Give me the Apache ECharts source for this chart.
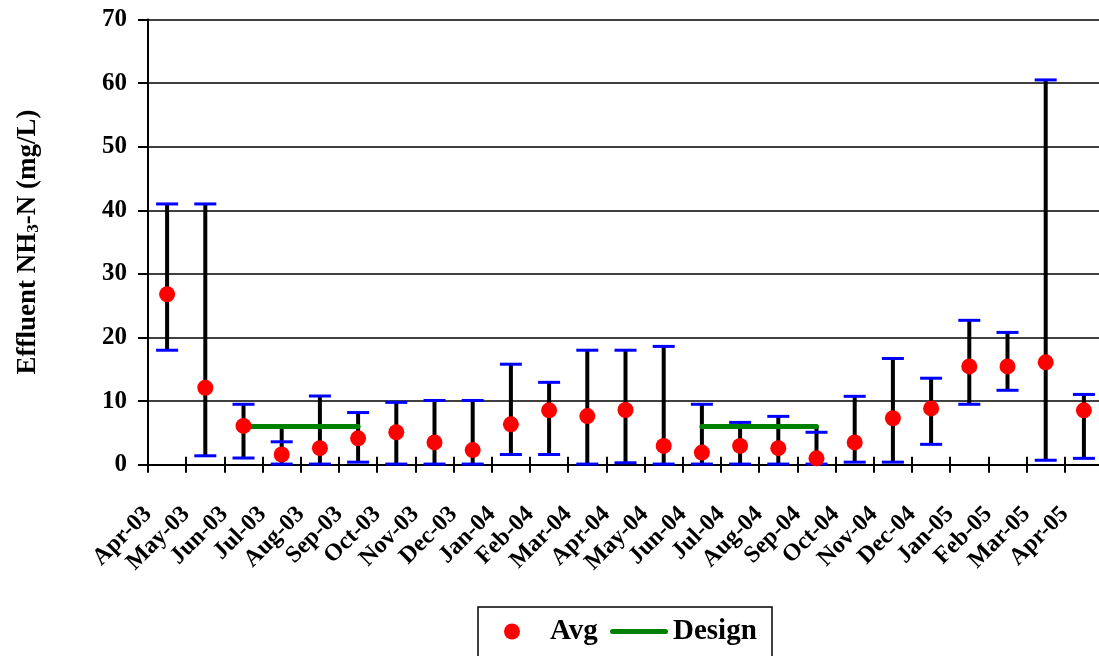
<!DOCTYPE html>
<html>
<head>
<meta charset="utf-8">
<script src="https://cdn.jsdelivr.net/npm/echarts@6/dist/echarts.min.js"></script>
<style>
html,body{margin:0;padding:0;background:#fff;}
#chart{width:1099px;height:656px;}
</style>
</head>
<body>
<div id="chart"></div>
<script>
var categories = ['Apr-03','May-03','Jun-03','Jul-03','Aug-03','Sep-03','Oct-03','Nov-03','Dec-03','Jan-04','Feb-04','Mar-04','Apr-04','May-04','Jun-04','Jul-04','Aug-04','Sep-04','Oct-04','Nov-04','Dec-04','Jan-05','Feb-05','Mar-05','Apr-05'];
var avgValues = [26.8, 12.1, 6.1, 1.6, 2.6, 4.15, 5.1, 3.5, 2.3, 6.35, 8.55, 7.65, 8.6, 2.95, 1.9, 2.95, 2.6, 1.0, 3.5, 7.3, 8.85, 15.45, 15.45, 16.1, 8.55];
var minValues = [18, 1.4, 1.05, 0.1, 0.1, 0.4, 0.1, 0.1, 0.1, 1.6, 1.6, 0.1, 0.3, 0.1, 0.1, 0.1, 0.1, 0.1, 0.4, 0.4, 3.2, 9.5, 11.7, 0.7, 1.0];
var maxValues = [41, 41, 9.5, 3.6, 10.8, 8.2, 9.8, 10.1, 10.1, 15.8, 12.95, 18, 18, 18.6, 9.5, 6.65, 7.6, 5.1, 10.75, 16.7, 13.6, 22.7, 20.8, 60.5, 11.05];
var designValues = [null, null, 6, 6, 6, 6, null, null, null, null, null, null, null, null, 6, 6, 6, 6, null, null, null, null, null, null, null];
var yTicks = [0, 10, 20, 30, 40, 50, 60, 70];

var FONT = "'Liberation Serif', 'DejaVu Serif', serif";

// high-low line extents across all series at each category
var hiLoData = categories.map(function (c, i) {
  var lo = minValues[i], hi = maxValues[i];
  if (designValues[i] != null) {
    lo = Math.min(lo, designValues[i]);
    hi = Math.max(hi, designValues[i]);
  }
  return [i, lo, hi];
});
var capData = [];
categories.forEach(function (c, i) {
  capData.push([i, minValues[i]]);
  capData.push([i, maxValues[i]]);
});

var legendText = {fontFamily: FONT, fontWeight: 'bold', fontSize: 29, color: '#000'};

var chart = echarts.init(document.getElementById('chart'), null, {renderer: 'canvas'});
chart.setOption({
  animation: false,
  backgroundColor: '#ffffff',
  grid: {left: 148, width: 955, top: 19.5, bottom: 191.3, containLabel: false, outerBoundsMode: 'none'},
  legend: [{
    left: 504, top: 617,
    data: [{name: 'Avg', icon: 'circle'}],
    itemWidth: 16, itemHeight: 16,
    padding: 0,
    textStyle: Object.assign({padding: [0, 0, 0, 25]}, legendText)
  }, {
    left: 610, top: 617,
    data: [{name: 'Design', icon: 'path://M2.5,0 H55.5 A2.5,2.5 0 0 1 55.5,5 H2.5 A2.5,2.5 0 0 1 2.5,0 Z'}],
    itemWidth: 58, itemHeight: 6,
    padding: 0,
    textStyle: legendText
  }],
  graphic: [{
    type: 'rect', x: 478, y: 607, silent: true,
    shape: {x: 0, y: 0, width: 294, height: 80},
    style: {fill: 'none', stroke: '#000', lineWidth: 1.5}
  }],
  xAxis: [{
    type: 'category',
    data: categories,
    boundaryGap: true,
    axisLine: {show: true, lineStyle: {color: '#000', width: 2}},
    axisTick: {show: true, inside: false, length: 8, interval: 0, lineStyle: {color: '#000', width: 2}},
    axisLabel: {show: false},
    splitLine: {show: false}
  }, {
    type: 'category',
    data: categories.concat(['']),
    boundaryGap: false,
    position: 'bottom',
    axisLine: {show: false},
    axisTick: {show: true, inside: true, length: 8, interval: 0, lineStyle: {color: '#000', width: 2}},
    axisLabel: {show: true, interval: 0, rotate: 45, margin: 46,
      fontFamily: FONT, fontWeight: 'bold', fontSize: 24, color: '#000'},
    splitLine: {show: false}
  }],
  yAxis: {
    type: 'value',
    min: yTicks[0], max: yTicks[yTicks.length - 1], interval: 10,
    name: 'Effluent NH{s|3}-N (mg/L)',
    nameLocation: 'middle', nameRotate: 90, nameGap: 106,
    nameTextStyle: {fontFamily: FONT, fontWeight: 'bold', fontSize: 27, color: '#000',
      rich: {s: {fontFamily: FONT, fontWeight: 'bold', fontSize: 17, color: '#000', verticalAlign: 'bottom'}}},
    axisLine: {show: true, lineStyle: {color: '#000', width: 2}},
    axisTick: {show: true, inside: false, length: 10, lineStyle: {color: '#000', width: 2}},
    axisLabel: {margin: 21, fontFamily: FONT, fontWeight: 'bold', fontSize: 25, color: '#000'},
    splitLine: {show: true, lineStyle: {color: '#000', width: 1.5}}
  },
  series: [{
    name: 'hilo',
    type: 'custom',
    xAxisIndex: 0, yAxisIndex: 0,
    z: 1,
    data: hiLoData,
    renderItem: function (params, api) {
      var p1 = api.coord([api.value(0), api.value(1)]);
      var p2 = api.coord([api.value(0), api.value(2)]);
      return {type: 'line', shape: {x1: p1[0], y1: p1[1], x2: p2[0], y2: p2[1]},
        style: {stroke: '#000', lineWidth: 4}};
    },
    silent: true
  }, {
    name: 'Design',
    type: 'line',
    xAxisIndex: 0, yAxisIndex: 0,
    z: 2,
    data: designValues,
    symbol: 'none',
    connectNulls: false,
    lineStyle: {color: '#008000', width: 5, cap: 'round'},
    itemStyle: {color: '#008000'}
  }, {
    name: 'caps',
    type: 'custom',
    xAxisIndex: 0, yAxisIndex: 0,
    z: 3,
    data: capData,
    renderItem: function (params, api) {
      var p = api.coord([api.value(0), api.value(1)]);
      return {type: 'line', shape: {x1: p[0] - 11, y1: p[1], x2: p[0] + 11, y2: p[1]},
        style: {stroke: '#0000ff', lineWidth: 3}};
    },
    silent: true
  }, {
    name: 'Avg',
    type: 'scatter',
    xAxisIndex: 0, yAxisIndex: 0,
    z: 4,
    data: avgValues,
    symbol: 'circle',
    symbolSize: 16,
    itemStyle: {color: '#ff0000', opacity: 1}
  }]
});
</script>
</body>
</html>
